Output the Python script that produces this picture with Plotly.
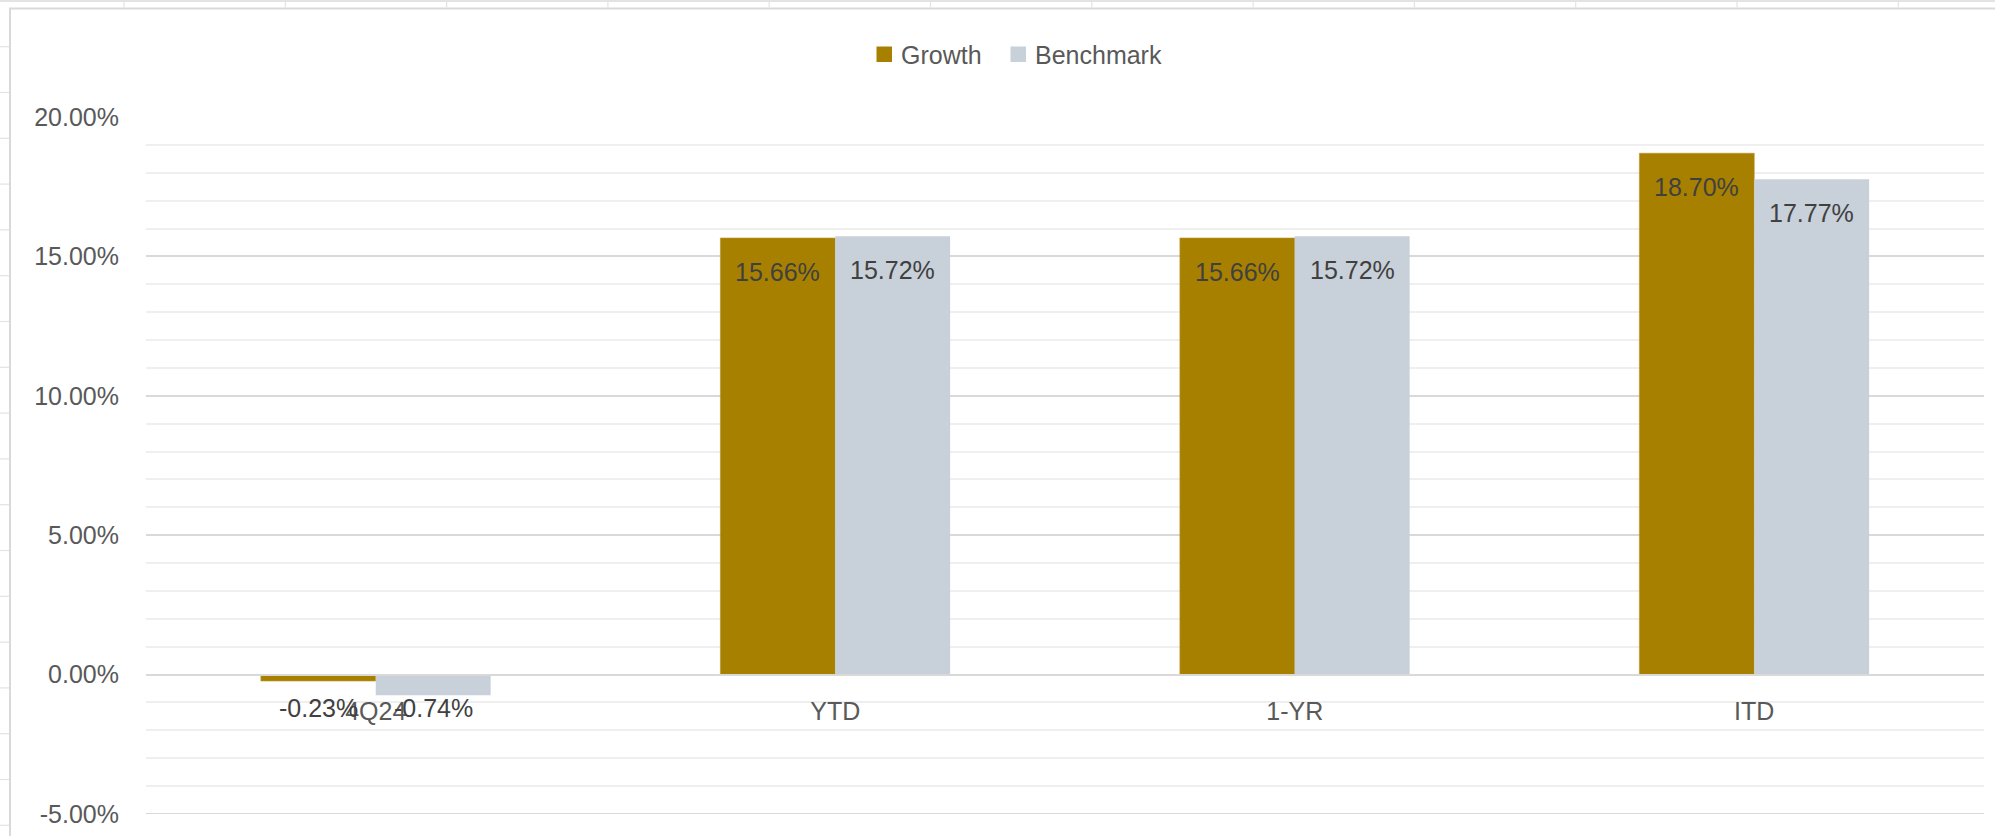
import plotly.graph_objects as go

# Returns by period (%)
categories = ["4Q24", "YTD", "1-YR", "ITD"]
growth = [-0.23, 15.66, 15.66, 18.70]
benchmark = [-0.74, 15.72, 15.72, 17.77]
series_names = ["Growth", "Benchmark"]
y_ticks = [-5, 0, 5, 10, 15, 20]

W, H = 1995, 836
M_L, M_R, M_T, M_B = 146, 11, 117, 22
PLOT_W = W - M_L - M_R
PLOT_H = H - M_T - M_B

GOLD = "#A88000"
SLATE = "#C8D0D9"
FONT = "Liberation Sans, Arial, sans-serif"


def px_x(x):
    return (x - M_L) / PLOT_W


def px_y(y):
    return (H - M_B - y) / PLOT_H


fig = go.Figure()
fig.add_trace(go.Bar(name=series_names[0], x=categories, y=growth, showlegend=False,
                     marker=dict(color=GOLD, line=dict(color="#B8962A", width=0.6))))
fig.add_trace(go.Bar(name=series_names[1], x=categories, y=benchmark, showlegend=False,
                     marker=dict(color=SLATE, line=dict(width=0))))

# value labels just inside the bar end (negative ones hang below the zero line)
bar_half = PLOT_W / len(categories) * 0.5 / 2 / 2
annotations = []
for series, shift in ((growth, -bar_half), (benchmark, bar_half)):
    for cat, v in zip(categories, series):
        annotations.append(dict(
            x=cat, y=max(v, 0), xref="x", yref="y",
            text=f"{v:.2f}%", showarrow=False,
            xshift=shift, yshift=-33.5,
            font=dict(family=FONT, size=25, color="#404040"),
            xanchor="center", yanchor="middle"))

shapes = []

# legend: colour key squares with series names, centred over the chart object
legend_items = [(series_names[0], GOLD, 876.5), (series_names[1], SLATE, 1010.5)]
for name, color, left in legend_items:
    shapes.append(dict(type="rect", xref="paper", yref="paper",
                       x0=px_x(left), x1=px_x(left + 15.5),
                       y0=px_y(46.5), y1=px_y(62),
                       fillcolor=color, line=dict(width=0)))
    annotations.append(dict(x=px_x(left + 22), y=px_y(54.5), xref="paper", yref="paper",
                            text=name, showarrow=False, xanchor="left", yanchor="middle",
                            font=dict(family=FONT, size=25, color="#595959")))

# bottom gridline at the axis minimum
shapes.append(dict(type="line", xref="paper", yref="y", x0=0, x1=1,
                   y0=y_ticks[0], y1=y_ticks[0],
                   line=dict(color="#d9d9d9", width=2), layer="below"))

# worksheet cell lines around the chart object
shapes.append(dict(type="line", xref="paper", yref="paper",
                   x0=px_x(0), x1=px_x(W), y0=px_y(1), y1=px_y(1),
                   line=dict(color="#e3e3e3", width=2), layer="below"))
cx = 124.0
while cx < W:
    shapes.append(dict(type="line", xref="paper", yref="paper",
                       x0=px_x(cx), x1=px_x(cx), y0=px_y(0), y1=px_y(7.5),
                       line=dict(color="#e3e3e3", width=1.2), layer="below"))
    cx += 161.3
ry = 46.7
while ry < H:
    shapes.append(dict(type="line", xref="paper", yref="paper",
                       x0=px_x(0), x1=px_x(9), y0=px_y(ry), y1=px_y(ry),
                       line=dict(color="#e3e3e3", width=1.2), layer="below"))
    ry += 45.8
# chart frame
shapes.append(dict(type="rect", xref="paper", yref="paper",
                   x0=px_x(10), x1=px_x(W + 20), y0=px_y(8.5), y1=px_y(H + 20),
                   line=dict(color="#d9d9d9", width=2), layer="below"))

fig.update_layout(
    width=W, height=H,
    margin=dict(l=M_L, r=M_R, t=M_T, b=M_B, autoexpand=False),
    paper_bgcolor="white", plot_bgcolor="white",
    barmode="group", bargap=0.5, bargroupgap=0,
    font=dict(family=FONT, size=25, color="#595959"),
    showlegend=False,
    annotations=annotations,
    shapes=shapes,
)

fig.update_xaxes(
    type="category", anchor="free", position=(0 - y_ticks[0]) / (y_ticks[-1] - y_ticks[0]),
    showline=True, linecolor="#d9d9d9", linewidth=2,
    showgrid=False, ticks="", ticklabelstandoff=14,
    tickfont=dict(family=FONT, size=25, color="#595959"),
)
fig.update_yaxes(
    range=[y_ticks[0], y_ticks[-1]], tickvals=y_ticks,
    ticktext=[f"{t:.2f}%" for t in y_ticks],
    showgrid=True, gridcolor="#d9d9d9", gridwidth=2,
    zeroline=False, showline=False, ticks="",
    minor=dict(dtick=1, showgrid=True, gridcolor="#efefef", gridwidth=1.5),
    ticklabelstandoff=26,
    tickfont=dict(family=FONT, size=25, color="#595959"),
)

fig.write_html("out.html")
